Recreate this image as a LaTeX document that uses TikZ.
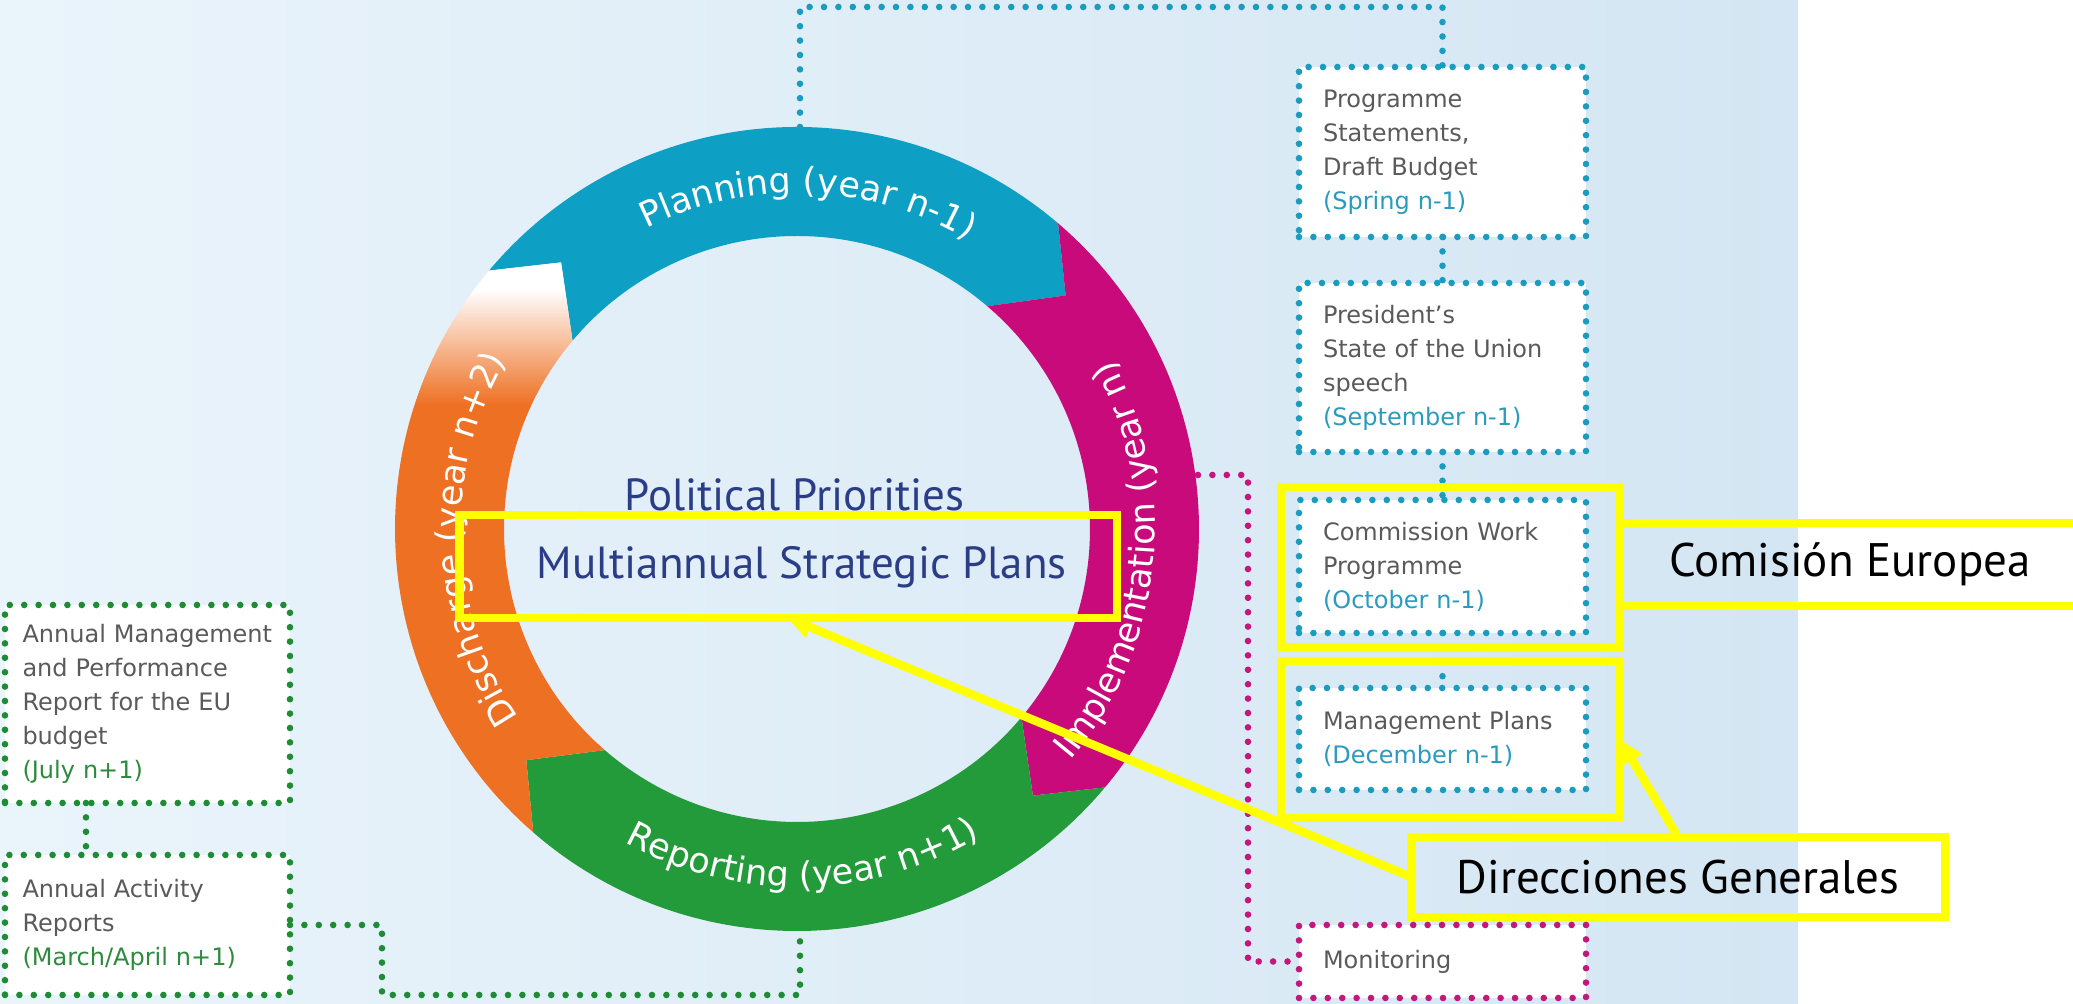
\documentclass[tikz,border=0pt]{standalone}
\usepackage{fontspec}
\setmainfont{DejaVu Sans}
\newfontfamily\ptsans{PT Sans}
\usetikzlibrary{positioning, arrows.meta, decorations.text}

\definecolor{planningcol}{HTML}{0EA0C4}
\definecolor{implcol}{HTML}{C80A7A}
\definecolor{reportcol}{HTML}{239B3B}
\definecolor{dischargecol}{HTML}{EE7023}
\definecolor{tealdot}{HTML}{1A9CC0}
\definecolor{greendot}{HTML}{1E8C35}
\definecolor{pinkdot}{HTML}{C4167C}
\definecolor{tealdate}{HTML}{2A9BC0}
\definecolor{greendate}{HTML}{2E8B3E}
\definecolor{navytext}{HTML}{2B3D86}
\definecolor{boxgray}{HTML}{5A5A5A}
\definecolor{bgleft}{HTML}{EAF4FB}
\definecolor{bgright}{HTML}{D4E6F3}
\definecolor{hilite}{HTML}{FFFF00}

\newcommand{\ringfont}{\fontsize{17.5}{17.5}\selectfont}
\newcommand{\boxfont}{\fontsize{12}{17}\selectfont\hyphenpenalty=10000}
\newcommand{\centerfont}{\ptsans\fontsize{22.5}{26}\selectfont}
\newcommand{\notefont}{\ptsans\fontsize{23.5}{26}\selectfont}

\begin{document}
\begin{tikzpicture}[
        x=0.5pt, y=0.5pt,
        dotline/.style={
            line width=3.3pt,
            line cap=round,
            dash pattern=on 0pt off 7.2pt
        },
        infobox/.style={
            rectangle,
            fill=white,
            dotline,
            text width=119.5pt,
            inner xsep=12pt,
            inner ysep=0pt,
            outer sep=0pt,
            align=left,
            font=\boxfont,
            text=boxgray
        },
        leftbox/.style={
            infobox,
            draw=greendot,
            text width=125pt,
            inner xsep=8.75pt
        },
        hiliteframe/.style={
            rectangle,
            draw=hilite,
            line width=4.25pt,
            inner sep=0pt,
            outer sep=0pt,
            font=\notefont
        },
        pointer/.style={
            draw=hilite,
            line width=4.25pt,
            -{Triangle[length=12pt, width=11pt]}
        },
        ringtext/.style={
            decorate,
            decoration={text along path, text align=center, text color=white, text={|\ringfont|#1}}
        }
    ]
        % background panel
        \fill[left color=bgleft, right color=bgright] (0,0) rectangle (1798,1004);
        \useasboundingbox (0,0) rectangle (2073,1004);

        % the cycle
        \begin{scope}[shift={(797,475)}]
            \fill[planningcol] (140:201pt) arc[start angle=140, end angle=49.5, radius=201pt] -- (41:178pt)
                -- (49.5:146.5pt) arc[start angle=49.5, end angle=140, radius=146.5pt] -- (131.5:178pt) -- cycle;
            \fill[implcol] (49.5:201pt) arc[start angle=49.5, end angle=-40, radius=201pt] -- (-48.5:178pt)
                -- (-40:146.5pt) arc[start angle=-40, end angle=49.5, radius=146.5pt] -- (41:178pt) -- cycle;
            \fill[reportcol] (-40:201pt) arc[start angle=-40, end angle=-131, radius=201pt] -- (-139.5:178pt)
                -- (-131:146.5pt) arc[start angle=-131, end angle=-40, radius=146.5pt] -- (-48.5:178pt) -- cycle;
            \begin{scope}
                \clip (229:201pt) arc[start angle=229, end angle=140, radius=201pt] -- (131.5:178pt)
                    -- (140:146.5pt) arc[start angle=140, end angle=229, radius=146.5pt] -- (220.5:178pt) -- cycle;
                \fill[dischargecol] (-210pt,-210pt) rectangle (-60pt,62pt);
                \shade[bottom color=dischargecol, top color=white] (-210pt,62pt) rectangle (-60pt,120pt);
                \fill[white] (-210pt,120pt) rectangle (-60pt,210pt);
            \end{scope}

            \path[ringtext={Planning (year n-1)}] (148:168pt) arc[start angle=148, end angle=28, radius=168pt];
            \path[ringtext={Implementation (year n)}] (-66:179pt) arc[start angle=-66, end angle=54, radius=179pt];
            \path[ringtext={Reporting (year n+1)}] (-149:179pt) arc[start angle=-149, end angle=-29, radius=179pt];
            \path[ringtext={Discharge (year n+2)}] (242:168pt) arc[start angle=242, end angle=122, radius=168pt];
        \end{scope}

        \coordinate (ringtop)   at (800,877);
        \coordinate (ringright) at (1198,529);
        \coordinate (ringbot)   at (800,72);

        \node[font=\centerfont, text=navytext] (priorities) at (794.5,509) {Political Priorities};
        \node[font=\centerfont, text=navytext] (plans)      at (801.5,437) {Multiannual Strategic Plans};

        % right column
        \node[infobox, draw=tealdot, minimum height=85pt, anchor=north] (progbox) at (1442.5,937)
            {Programme\\Statements,\\Draft Budget\\\textcolor{tealdate}{(Spring n-1)}};
        \node[infobox, draw=tealdot, minimum height=84.5pt] (speechbox) [below=23pt of progbox]
            {President’s\\State of the Union\\speech\\\textcolor{tealdate}{(September n-1)}};
        \node[infobox, draw=tealdot, minimum height=66.5pt] (cwpbox) [below=24pt of speechbox]
            {Commission Work\\Programme\\\textcolor{tealdate}{(October n-1)}};
        \node[infobox, draw=tealdot, minimum height=51pt] (mpbox) [below=27.5pt of cwpbox]
            {Management Plans\\\textcolor{tealdate}{(December n-1)}};
        \node[infobox, draw=pinkdot, minimum height=36.5pt] (monbox) [below=67.5pt of mpbox]
            {Monitoring};

        % left column
        \node[leftbox, minimum height=99pt, anchor=north] (amprbox) at (147.5,399)
            {Annual Management\\and Performance\\Report for the EU\\budget\\\textcolor{greendate}{(July n+1)}};
        \node[leftbox, minimum height=70pt] (actbox) [below=26pt of amprbox]
            {Annual Activity\\Reports\\\textcolor{greendate}{(March/April n+1)}};

        % dotted links
        \draw[dotline, tealdot] (ringtop) -- ++(0,120) -| (progbox.north);
        \draw[dotline, tealdot] (progbox) -- (speechbox);
        \draw[dotline, tealdot] (speechbox) -- (cwpbox);
        \draw[dotline, tealdot] (cwpbox) -- (mpbox);
        \draw[dotline, pinkdot] (ringright) -- ++(50,0) |- (monbox.west);
        \draw[dotline, greendot] ([xshift=-30.75pt]amprbox.south) -- ([xshift=-30.75pt]actbox.north);
        \draw[dotline, greendot] (actbox.east) -- ++(92,0) -- ++(0,-70) -| (ringbot);

        % highlights
        \node[hiliteframe, minimum width=328.75pt, minimum height=51.5pt] (mspframe) at (788,437.5) {};
        \node[hiliteframe, minimum width=169.5pt, minimum height=80.25pt] (cwpframe) at (1450.5,436.75) {};
        \node[hiliteframe, minimum width=169.5pt, minimum height=78.5pt] (mpframe) at (1450.5,264.5) {};
        \node[hiliteframe, minimum width=230pt, minimum height=41.5pt, anchor=west] (ceframe) at (1620,439.5)
            {Comisión Europea};
        \node[hiliteframe, minimum width=266.75pt, minimum height=40pt] (dgframe) at (1678,127)
            {Direcciones Generales};

        \draw[pointer] (dgframe.north) -- (mpframe.east);
        \draw[pointer] (dgframe.west) -- (mspframe.south);
    \end{tikzpicture}
\end{document}
